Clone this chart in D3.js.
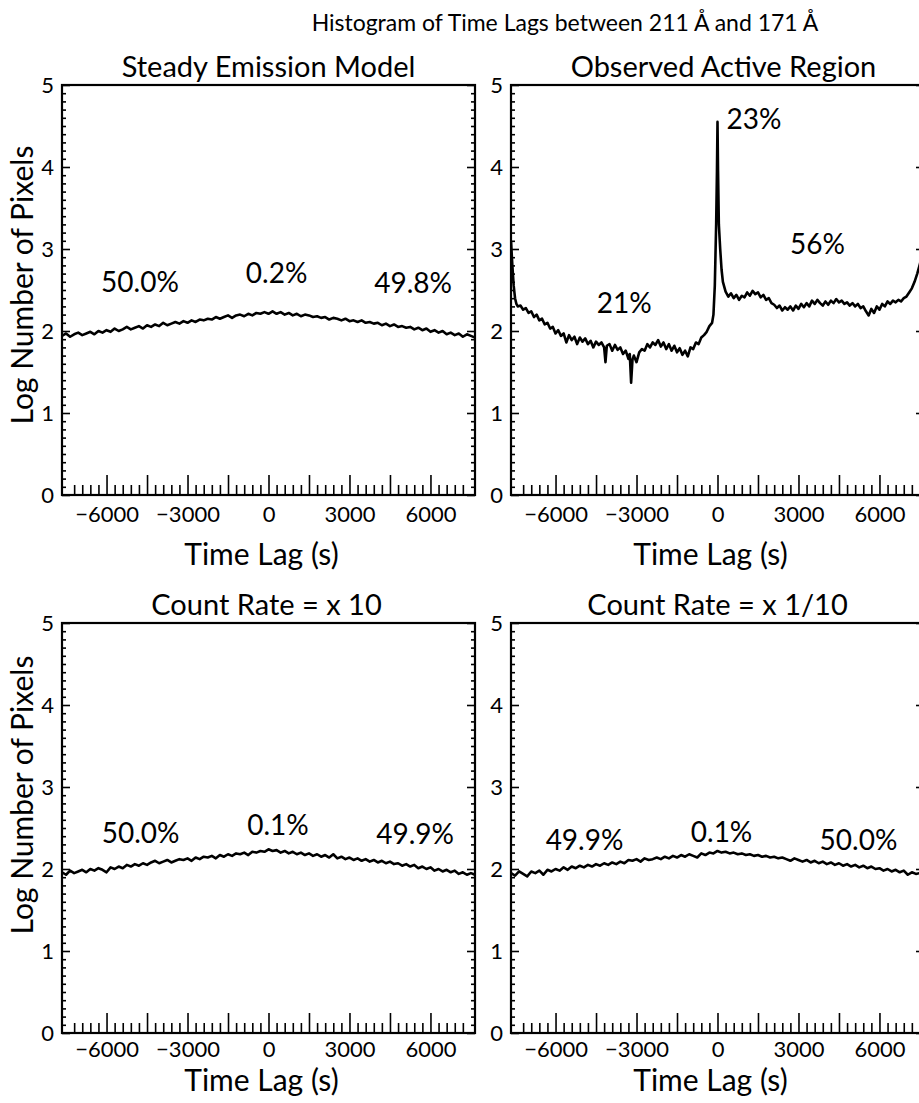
<!DOCTYPE html>
<html><head><meta charset="utf-8">
<script src="https://cdn.jsdelivr.net/npm/d3@7"></script>
<style>
body{margin:0;background:#fff}
svg{display:block}
text{font-family:Lato,"Open Sans",sans-serif;fill:#000}
</style>
</head><body>
<svg id="chart" width="919" height="1103"></svg>
<script>
// ---------------- DATA ----------------
const mainTitle = "Histogram of Time Lags between 211 Å and 171 Å";
const panelTitles = ["Steady Emission Model", "Observed Active Region", "Count Rate = x 10", "Count Rate = x 1/10"];
const xAxisTitle = "Time Lag (s)";
const yAxisTitle = "Log Number of Pixels";
const xTickLabels = [-6000, -3000, 0, 3000, 6000];
const yTickLabels = [0, 1, 2, 3, 4, 5];
const lagDomain = [-7650, 7650];
const logDomain = [0, 5];
const binStart = -7650, binStep = 150;

const steadyValues = [1.94,1.97,1.93,1.96,1.98,1.95,1.97,1.99,1.96,2.00,
 1.98,2.01,1.99,2.03,2.00,2.02,2.05,2.02,2.04,2.06,
 2.03,2.07,2.05,2.08,2.06,2.10,2.07,2.09,2.11,2.09,
 2.12,2.10,2.13,2.11,2.14,2.13,2.15,2.14,2.17,2.15,
 2.17,2.19,2.16,2.19,2.20,2.18,2.21,2.19,2.22,2.21,
 2.23,2.21,2.24,
 2.21,2.23,2.20,2.22,2.19,2.21,2.18,2.20,2.19,2.17,
 2.18,2.16,2.17,2.14,2.16,2.15,2.13,2.15,2.12,2.13,
 2.11,2.13,2.10,2.11,2.09,2.10,2.07,2.09,2.06,2.08,
 2.05,2.06,2.04,2.05,2.02,2.04,2.01,2.03,1.99,2.01,
 1.98,2.00,1.96,1.98,1.95,1.97,1.93,1.96,1.94,1.92];

const countTenXValues = [1.96,1.93,1.98,1.95,1.97,1.99,1.96,2.00,1.98,2.01,
 1.99,1.96,2.02,2.00,2.03,2.01,2.05,2.03,2.06,2.04,
 2.07,2.05,2.08,2.10,2.07,2.09,2.11,2.08,2.10,2.12,
 2.11,2.13,2.10,2.14,2.12,2.15,2.14,2.16,2.13,2.17,
 2.15,2.18,2.16,2.19,2.18,2.20,2.17,2.21,2.20,2.22,
 2.21,2.24,2.22,
 2.23,2.20,2.22,2.19,2.21,2.18,2.20,2.17,2.19,2.16,
 2.18,2.15,2.17,2.14,2.18,2.13,2.15,2.12,2.14,2.11,
 2.13,2.10,2.12,2.09,2.11,2.08,2.10,2.07,2.09,2.06,
 2.07,2.04,2.06,2.03,2.05,2.01,2.03,2.00,2.02,1.98,
 2.00,1.97,1.99,1.96,1.98,1.94,1.96,1.93,1.95,1.93];

const countTenthValues = [1.95,1.92,1.97,1.94,1.91,1.97,1.95,1.98,1.93,1.99,
 1.97,2.00,1.98,2.02,1.99,2.03,2.01,2.04,2.02,2.05,
 2.03,2.06,2.04,2.07,2.05,2.08,2.06,2.09,2.07,2.11,
 2.10,2.12,2.09,2.13,2.11,2.12,2.14,2.12,2.15,2.13,
 2.16,2.14,2.17,2.15,2.18,2.16,2.14,2.19,2.17,2.20,
 2.19,2.22,2.20,
 2.21,2.19,2.20,2.18,2.19,2.17,2.18,2.16,2.17,2.15,
 2.16,2.14,2.15,2.13,2.14,2.12,2.10,2.13,2.11,2.09,
 2.11,2.08,2.10,2.07,2.09,2.06,2.08,2.05,2.07,2.04,
 2.06,2.03,2.05,2.02,2.04,2.01,2.03,2.00,2.01,1.98,
 2.00,1.97,1.99,1.96,1.98,1.93,1.96,1.94,1.95,1.92];

// observed active region: [time lag (s), log number of pixels]
const observedBins = [
 [-7650,3.10],[-7600,2.80],[-7550,2.55],[-7500,2.40],[-7450,2.33],[-7400,2.30],[-7300,2.31],[-7200,2.26],
 [-7100,2.28],[-7000,2.22],[-6900,2.24],[-6800,2.17],[-6700,2.20],[-6600,2.13],[-6500,2.15],[-6400,2.08],
 [-6300,2.10],[-6200,2.03],[-6100,2.05],[-6000,1.97],[-5900,2.01],[-5800,1.94],[-5700,1.97],[-5600,1.86],
 [-5500,1.95],[-5400,1.89],[-5300,1.93],[-5200,1.84],[-5100,1.92],[-5000,1.87],[-4900,1.91],[-4800,1.84],
 [-4700,1.88],[-4600,1.80],[-4500,1.87],[-4400,1.83],[-4300,1.86],[-4200,1.80],[-4150,1.62],[-4100,1.82],
 [-4000,1.84],[-3900,1.76],[-3800,1.83],[-3700,1.77],[-3600,1.80],[-3500,1.72],[-3400,1.76],[-3300,1.66],
 [-3250,1.72],[-3200,1.37],[-3150,1.65],[-3100,1.70],[-3000,1.62],[-2900,1.74],[-2800,1.78],[-2700,1.76],
 [-2600,1.84],[-2500,1.80],[-2400,1.86],[-2300,1.83],[-2200,1.89],[-2100,1.81],[-2000,1.86],[-1900,1.78],
 [-1800,1.84],[-1700,1.76],[-1600,1.82],[-1500,1.74],[-1400,1.79],[-1300,1.71],[-1200,1.76],[-1100,1.69],
 [-1000,1.80],[-900,1.78],[-800,1.86],[-700,1.84],[-600,1.92],[-500,1.95],[-400,1.99],[-300,2.06],
 [-200,2.10],[-150,2.20],[-100,2.55],[-50,3.30],[-20,3.95],[0,4.55],[20,3.95],[50,3.30],
 [100,3.00],[150,2.75],[200,2.60],[300,2.48],[400,2.42],[500,2.46],[600,2.40],[700,2.44],
 [800,2.38],[900,2.43],[1000,2.41],[1100,2.47],[1200,2.43],[1300,2.49],[1400,2.45],[1500,2.47],
 [1600,2.41],[1700,2.44],[1800,2.38],[1900,2.40],[2000,2.34],[2100,2.32],[2200,2.28],[2300,2.31],
 [2400,2.25],[2500,2.29],[2600,2.26],[2700,2.30],[2800,2.25],[2900,2.31],[3000,2.27],[3100,2.33],
 [3200,2.29],[3300,2.34],[3400,2.30],[3500,2.37],[3600,2.33],[3700,2.38],[3800,2.34],[3900,2.31],
 [4000,2.36],[4100,2.32],[4200,2.37],[4300,2.34],[4400,2.39],[4500,2.35],[4600,2.37],[4700,2.33],
 [4800,2.35],[4900,2.31],[5000,2.34],[5100,2.30],[5200,2.33],[5300,2.28],[5400,2.30],[5500,2.24],
 [5600,2.19],[5700,2.27],[5800,2.22],[5900,2.30],[6000,2.26],[6100,2.33],[6200,2.30],[6300,2.36],
 [6400,2.33],[6500,2.37],[6600,2.35],[6700,2.38],[6800,2.36],[6900,2.40],[7000,2.42],[7100,2.47],
 [7200,2.52],[7300,2.60],[7400,2.70],[7500,2.82],[7600,2.95],[7650,3.02]
];

const percentTexts = [
 ["50.0%", "0.2%", "49.8%"],
 ["21%", "23%", "56%"],
 ["50.0%", "0.1%", "49.9%"],
 ["49.9%", "0.1%", "50.0%"]
];
// annotation anchors in data units [lag, log value]
const percentAnchors = [
 [[-4760,2.47],[300,2.58],[5355,2.46]],
 [[-3455,2.22],[333,4.46],[3700,2.94]],
 [[-4740,2.32],[350,2.41],[5430,2.31]],
 [[-4926,2.23],[150,2.33],[5222,2.23]]
];

// ---------------- LAYOUT ----------------
const W = 919, H = 1103;
const panels = [
 {x:62,  y:85,  w:413, h:410, anchors:["middle","middle","middle"]},
 {x:511, y:85,  w:413, h:410, anchors:["middle","start","middle"]},
 {x:62,  y:623, w:413, h:410, anchors:["middle","middle","middle"]},
 {x:511, y:623, w:413, h:410, anchors:["middle","middle","middle"]}
];
const titleOffsets = [0, 6, -2, 0];

const binLags = steadyValues.map((_, i) => binStart + i * binStep);
const seriesData = [
 binLags.map((l, i) => [l, steadyValues[i]]),
 observedBins,
 binLags.map((l, i) => [l, countTenXValues[i]]),
 binLags.map((l, i) => [l, countTenthValues[i]])
];

const svg = d3.select("#chart");
svg.append("rect").attr("width", W).attr("height", H).attr("fill", "#fff");

svg.append("text").attr("x", 565).attr("y", 31).attr("text-anchor", "middle")
  .style("font-size", "23px").text(mainTitle);

const majorX = d3.range(-6000, 6001, 1500);
const minorX = d3.range(-7500, 7501, 300).filter(v => v % 1500 !== 0);
const minorY = d3.range(0, 50).map(i => i / 10).filter(v => !Number.isInteger(v));

panels.forEach((p, k) => {
  const g = svg.append("g").attr("transform", `translate(${p.x},${p.y})`);
  const x = d3.scaleLinear().domain(lagDomain).range([0, p.w]);
  const y = d3.scaleLinear().domain(logDomain).range([p.h, 0]);

  g.append("defs").append("clipPath").attr("id", "clip" + k)
    .append("rect").attr("width", p.w).attr("height", p.h);

  const ax1 = g.append("g").attr("transform", `translate(0,${p.h})`)
    .call(d3.axisBottom(x).tickValues(minorX).tickSize(-10).tickFormat(""));
  const ax2 = g.append("g").attr("transform", `translate(0,${p.h})`)
    .call(d3.axisBottom(x).tickValues(majorX).tickSize(-20).tickPadding(k < 2 ? 11 : 8)
      .tickFormat(d => xTickLabels.includes(d) ? d3.format("d")(d) : ""));
  const ay1 = g.append("g").call(d3.axisLeft(y).tickValues(minorY).tickSize(-4).tickFormat(""));
  const ay2 = g.append("g").call(d3.axisLeft(y).tickValues(yTickLabels).tickSize(-8).tickPadding(8).tickFormat(d3.format("d")));
  const ay3 = g.append("g").attr("transform", `translate(${p.w},0)`)
    .call(d3.axisRight(y).tickValues(minorY).tickSize(-4).tickFormat(""));
  const ay4 = g.append("g").attr("transform", `translate(${p.w},0)`)
    .call(d3.axisRight(y).tickValues(yTickLabels).tickSize(-8).tickFormat(""));

  [ax1, ax2, ay1, ay2, ay3, ay4].forEach(a => {
    a.select(".domain").remove();
    a.selectAll("line").attr("stroke", "#000").attr("stroke-width", 1.6);
    a.selectAll("text").style("font-size", "22px").attr("fill", "#000");
  });
  ay2.selectAll("text").attr("dy", "0.36em");

  const line = d3.line().x(d => x(d[0])).y(d => y(d[1]));
  g.append("path").datum(seriesData[k]).attr("clip-path", `url(#clip${k})`)
    .attr("d", line).attr("fill", "none").attr("stroke", "#000")
    .attr("stroke-width", 2.6).attr("stroke-linejoin", "round");

  g.append("rect").attr("width", p.w).attr("height", p.h)
    .attr("fill", "none").attr("stroke", "#000").attr("stroke-width", 2.2);

  percentTexts[k].forEach((t, j) => {
    const a = percentAnchors[k][j];
    g.append("text").attr("x", x(a[0])).attr("y", y(a[1]))
      .attr("text-anchor", p.anchors[j]).style("font-size", "28px").text(t);
  });

  g.append("text").attr("x", p.w / 2 + titleOffsets[k]).attr("y", -8)
    .attr("text-anchor", "middle").style("font-size", "29px").text(panelTitles[k]);

  g.append("text").attr("x", p.w / 2 - 7).attr("y", p.h + (k < 2 ? 70 : 58))
    .attr("text-anchor", "middle").style("font-size", "30px").text(xAxisTitle);

  if (k % 2 === 0) {
    g.append("text").attr("transform", `translate(${33 - p.x},${(k === 0 ? 285 : 795) - p.y}) rotate(-90)`)
      .attr("text-anchor", "middle").style("font-size", "30px").text(yAxisTitle);
  }
});
</script>
</body></html>
